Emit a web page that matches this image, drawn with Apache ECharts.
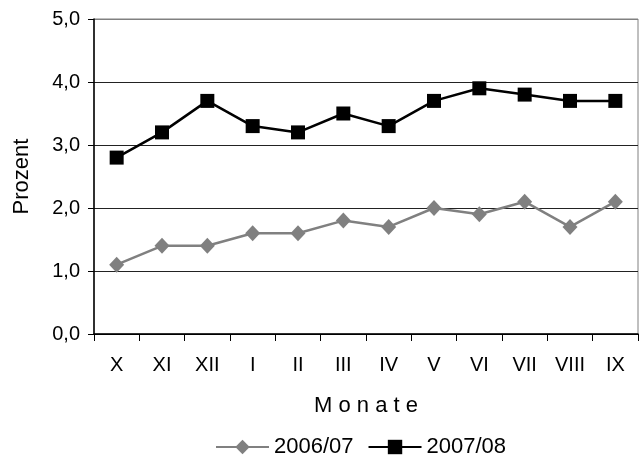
<!DOCTYPE html>
<html>
<head>
<meta charset="utf-8">
<script src="https://cdn.jsdelivr.net/npm/echarts@6/dist/echarts.min.js"></script>
<style>
html,body{margin:0;padding:0;background:#fff;}
#c{width:640px;height:458px;}
</style>
</head>
<body>
<div id="c"></div>
<script>
var months = ['X','XI','XII','I','II','III','IV','V','VI','VII','VIII','IX'];
var s2006 = [1.1,1.4,1.4,1.6,1.6,1.8,1.7,2.0,1.9,2.1,1.7,2.1];
var s2007 = [2.8,3.2,3.7,3.3,3.2,3.5,3.3,3.7,3.9,3.8,3.7,3.7];
var yTicks = [0,1,2,3,4,5];
var FONT = 'Liberation Sans, Arial, sans-serif';

var chart = echarts.init(document.getElementById('c'), null, {renderer:'canvas'});
chart.setOption({
  animation:false,
  backgroundColor:'#fff',
  textStyle:{fontFamily:FONT},
  grid:{left:94,right:2,top:19,bottom:124,show:true,borderColor:'#808080',borderWidth:1,containLabel:false},
  legend:{
    left:210, top:431,
    itemWidth:53, itemHeight:18, itemGap:14,
    textStyle:{fontFamily:FONT,fontSize:22,color:'#000'},
    data:['2006/07','2007/08']
  },
  xAxis:{
    type:'category',
    data:months,
    boundaryGap:true,
    name:'M o n a t e',
    nameLocation:'middle',
    nameGap:61,
    nameTextStyle:{fontFamily:FONT,fontSize:22,color:'#000'},
    axisLine:{lineStyle:{color:'#000',width:1.5}},
    axisTick:{show:true,inside:false,length:7,alignWithLabel:false,lineStyle:{color:'#000'}},
    axisLabel:{fontFamily:FONT,fontSize:20,color:'#000',margin:21,interval:0},
    splitLine:{show:false}
  },
  yAxis:{
    type:'value',
    min:yTicks[0],max:yTicks[yTicks.length-1],interval:1,
    name:'Prozent',
    nameLocation:'middle',
    nameGap:61,
    nameTextStyle:{fontFamily:FONT,fontSize:22,color:'#000'},
    axisLine:{show:true,lineStyle:{color:'#000',width:1.5}},
    axisTick:{show:true,length:6,lineStyle:{color:'#000'}},
    axisLabel:{fontFamily:FONT,fontSize:20,color:'#000',margin:14,
      formatter:function(v){return v.toFixed(1).replace('.',',');}},
    splitLine:{show:true,lineStyle:{color:['#000','#222','#222','#222','#222','#808080'],width:1}}
  },
  series:[
    {name:'2006/07',type:'line',data:s2006,
      symbol:'diamond',symbolSize:[15,16],
      lineStyle:{color:'#808080',width:2.5},
      itemStyle:{color:'#808080'}},
    {name:'2007/08',type:'line',data:s2007,
      symbol:'rect',symbolSize:14,
      lineStyle:{color:'#000',width:2.5},
      itemStyle:{color:'#000'}}
  ]
});
</script>
</body>
</html>
